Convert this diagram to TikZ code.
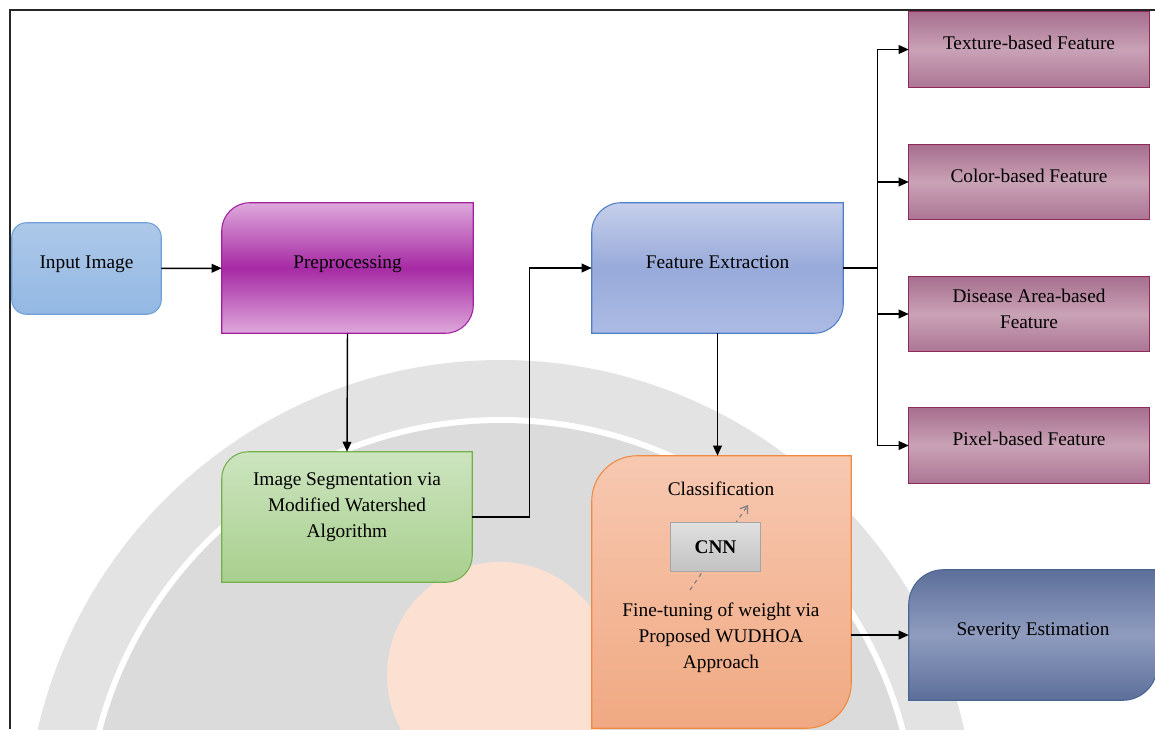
\documentclass[tikz,border=0pt]{standalone}
\usepackage{fontspec}
\setmainfont{Liberation Serif}
\usetikzlibrary{arrows.meta,backgrounds,calc}

\definecolor{inpTop}{HTML}{ADC8E8}
\definecolor{inpBot}{HTML}{93B8E3}
\definecolor{inpLine}{HTML}{6FA0D8}
\definecolor{preEdge}{HTML}{DEA8DB}
\definecolor{preMid}{HTML}{A62AA4}
\definecolor{preLine}{HTML}{A21FA0}
\definecolor{segTop}{HTML}{CCE4BF}
\definecolor{segBot}{HTML}{A8CF8E}
\definecolor{segLine}{HTML}{74B04A}
\definecolor{feTop}{HTML}{C6CFEA}
\definecolor{feMid}{HTML}{98AADA}
\definecolor{feBot}{HTML}{ACBBE4}
\definecolor{feLine}{HTML}{4F7EC9}
\definecolor{ftDark}{HTML}{A76F8E}
\definecolor{ftLight}{HTML}{C9A2B6}
\definecolor{ftLine}{HTML}{8E2A59}
\definecolor{clsTop}{HTML}{F7C8B1}
\definecolor{clsBot}{HTML}{F0A982}
\definecolor{clsLine}{HTML}{F08A40}
\definecolor{cnnTop}{HTML}{E0E0E0}
\definecolor{cnnBot}{HTML}{C2C2C2}
\definecolor{cnnLine}{HTML}{A5A5A5}
\definecolor{sevDark}{HTML}{5D6F9A}
\definecolor{sevLight}{HTML}{8F9CBF}
\definecolor{sevLine}{HTML}{4A6591}
\definecolor{wmOuter}{HTML}{E3E3E3}
\definecolor{wmInner}{HTML}{DBDBDB}
\definecolor{wmOrange}{HTML}{FCE1D2}

\tikzset{
  blk/.style={inner sep=0pt, align=center, font=\fontsize{14.5}{19.5}\selectfont},
  one/.style={text height=10pt, text depth=10pt},
  sz/.style 2 args={minimum width=#1*0.75pt, minimum height=#2*0.75pt},
  arr/.style={-{Triangle[length=7.5pt,width=6.5pt]}, line width=1.1pt},
  wire/.style={line width=1.1pt},
  tunearr/.style={-{Straight Barb[length=5pt,width=7pt]}, dashed, line width=0.9pt, black!50},
  frame/.style={line width=1.3pt, black!85},
  shp/.style={line width=0.8pt},
  inpS/.style={shp, draw=inpLine, top color=inpTop, bottom color=inpBot, rounded corners=11pt},
  preS/.style={shp, draw=preLine, top color=preEdge, bottom color=preEdge, middle color=preMid},
  segS/.style={shp, draw=segLine, top color=segTop, bottom color=segBot},
  feS/.style={shp, draw=feLine, top color=feTop, bottom color=feBot, middle color=feMid},
  ftS/.style={shp, draw=ftLine, top color=ftDark, bottom color=ftDark!85!ftLight, middle color=ftLight},
  clsS/.style={shp, draw=clsLine, top color=clsTop, bottom color=clsBot},
  cnnS/.style={shp, draw=cnnLine, top color=cnnTop, bottom color=cnnBot},
  sevS/.style={shp, draw=sevLine, top color=sevDark, bottom color=sevDark, middle color=sevLight},
}
% box with rounded top-left and bottom-right corners
\newcommand{\tlbr}[3]{\path[#3] (#1.west) [rounded corners=#2] -- (#1.north west) [sharp corners] -- (#1.north east) [rounded corners=#2] -- (#1.south east) [sharp corners] -- (#1.south west) -- cycle;}

\begin{document}
\begin{tikzpicture}[x=0.75pt, y=-0.75pt]
\useasboundingbox (0,0) rectangle (1155,729);
% blocks
\node[blk, one, sz={149}{91}] (inp) at (86.5,268.5) {Input Image};
\node[blk, one, sz={251}{130}] (pre) at (347.5,268) {Preprocessing};
\node[blk, text depth=18.6pt, sz={250}{130}] (seg) at (347,517) {Image Segmentation via\\Modified Watershed\\Algorithm};
\node[blk, one, sz={251}{130}] (fe) at (717.5,268) {Feature Extraction};
\node[blk, one, sz={240}{75}] (tex) at (1029,49.5) {Texture-based Feature};
\node[blk, one, sz={240}{74}] (col) at (1029,182) {Color-based Feature};
\node[blk, text depth=8.4pt, sz={240}{74}] (dis) at (1029,314) {Disease Area-based\\Feature};
\node[blk, one, sz={240}{75}] (pix) at (1029,445.5) {Pixel-based Feature};
\node[blk, sz={259}{272}] (cls) at (721.5,592) {};
\node[blk, one] (clslbl) at (721,495) {Classification};
\node[blk, sz={89}{48}, font=\fontsize{14.5}{19.5}\selectfont\bfseries] (cnn) at (715.5,547) {CNN};
\node[blk, text depth=9.9pt] (tune) at (721,642) {Fine-tuning of weight via\\Proposed WUDHOA\\Approach};
\node[blk, one, sz={248}{130}] (sev) at (1033,635) {Severity Estimation};
\coordinate (w0) at (690,590);
\coordinate (w1) at (748,505);

% shapes behind the text
\begin{scope}[on background layer]
\clip (0,0) rectangle (1155,729);
% faint watermark
\fill[wmOuter] (501,835) circle (475);
\fill[white] (501,835) circle (418);
\fill[wmInner] (501,835) circle (412);
\fill[wmOrange] (500,675) circle (113);
\path[inpS] (inp.south west) rectangle (inp.north east);
\tlbr{pre}{21pt}{preS}
\tlbr{seg}{20pt}{segS}
\tlbr{fe}{22pt}{feS}
\foreach \f in {tex,col,dis,pix}
  \path[ftS] (\f.south west) rectangle (\f.north east);
\tlbr{cls}{34pt}{clsS}
\draw[tunearr] (w0) -- (w1);
\path[cnnS] (cnn.south west) rectangle (cnn.north east);
\tlbr{sev}{26pt}{sevS}
\end{scope}

% frame
\draw[frame] (10,729) -- (10,10) -- (1155,10);

% connectors
\draw[arr] (inp) -- (pre);
\draw[arr] (pre.south) -- (seg.north);
\draw[arr] (seg.east) -- ++(57,0) |- (fe.west);
\draw[wire] (fe.east) -- ++(34,0) coordinate (hub);
\foreach \f in {tex,col,dis,pix}
  \draw[arr] (hub) |- (\f.west);
\draw[arr] (fe.south) -- (fe.south |- cls.north);
\draw[arr] (cls.east |- sev.west) -- (sev.west);
\end{tikzpicture}
\end{document}
